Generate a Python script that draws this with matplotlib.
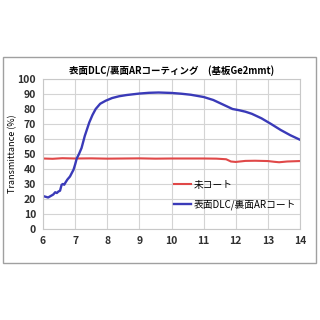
import matplotlib.pyplot as plt
from matplotlib.patches import Rectangle

plt.rcParams['font.family'] = ['Noto Sans CJK JP', 'DejaVu Sans']

title = "表面DLC/裏面ARコーティング　(基板Ge2mmt)"
name_red = "未コート"
name_blue = "表面DLC/裏面ARコート"

# wavelength (um) / transmittance (%)
x_blue = [6.0, 6.08, 6.16, 6.24, 6.32, 6.38, 6.43, 6.48, 6.53, 6.58, 6.62, 6.66, 6.7, 6.76,
          6.84, 6.9, 6.95, 7.0, 7.05, 7.12, 7.2, 7.3, 7.44, 7.54, 7.64, 7.78, 7.95, 8.15,
          8.37, 8.6, 9.0, 9.3, 9.6, 10.0, 10.3, 10.6, 11.0, 11.3, 11.6, 11.9, 12.1,
          12.3, 12.5, 12.8, 13.1, 13.4, 13.7, 14.0]
y_blue = [22, 21.5, 21, 22, 23, 24.5, 24, 25, 25.5, 29.5, 30, 29.5, 31, 33,
          35, 37.5, 39.5, 43, 47, 50, 54, 62, 71, 76, 80, 83.5, 85.5, 87.3,
          88.5, 89.3, 90.3, 90.8, 91, 90.7, 90.2, 89.5, 88, 86, 83, 80, 79.2,
          78.2, 76.8, 73.8, 70, 66, 62.5, 59.5]

x_red = [6.0, 6.3, 6.6, 7.0, 7.5, 8.0, 8.5, 9.0, 9.5, 10.0, 10.5, 11.0, 11.4, 11.7,
         11.85, 12.0, 12.3, 12.6, 13.0, 13.2, 13.35, 13.6, 14.0]
y_red = [47, 46.8, 47.2, 47, 47.1, 46.9, 47, 47.1, 46.9, 47, 47, 47, 46.9, 46.5,
         45, 44.7, 45.4, 45.5, 45.3, 44.8, 44.5, 45, 45.3]

fig = plt.figure(figsize=(3.2, 3.2), dpi=100)
fig.patches.append(Rectangle((3/320, 1-263/320), 313/320, 206/320, transform=fig.transFigure,
                             fill=False, edgecolor='#a0a0a0', linewidth=1.0))
ax = fig.add_axes([43/320, 1-229/320, 257/320, 150/320])

ax.plot(x_red, y_red, color='#e04848', lw=1.5, label=name_red)
ax.plot(x_blue, y_blue, color='#3a3ab8', lw=1.7, label=name_blue)

ax.set_xlim(6, 14)
ax.set_ylim(0, 100)
ax.set_xticks(range(6, 15))
ax.set_yticks(range(0, 101, 10))
ax.grid(color='#d4d4d4', lw=0.8)
ax.set_axisbelow(True)
for s in ax.spines.values():
    s.set_color('#c8c8c8')
ax.tick_params(length=0, labelsize=7.5, pad=5)
for t in ax.get_xticklabels() + ax.get_yticklabels():
    t.set_fontweight('bold')
    t.set_color('#303030')

ax.set_ylabel("Transmittance (%)", fontsize=6.5, labelpad=0)
ax.set_title(title, fontsize=6.8, fontweight='bold', pad=3)

ax.legend(loc='upper left', bbox_to_anchor=(0.49, 0.36), frameon=False, fontsize=7,
          handlelength=1.8, handletextpad=0.2, labelspacing=1.0, borderpad=0)

fig.savefig("out.png", dpi=100)
